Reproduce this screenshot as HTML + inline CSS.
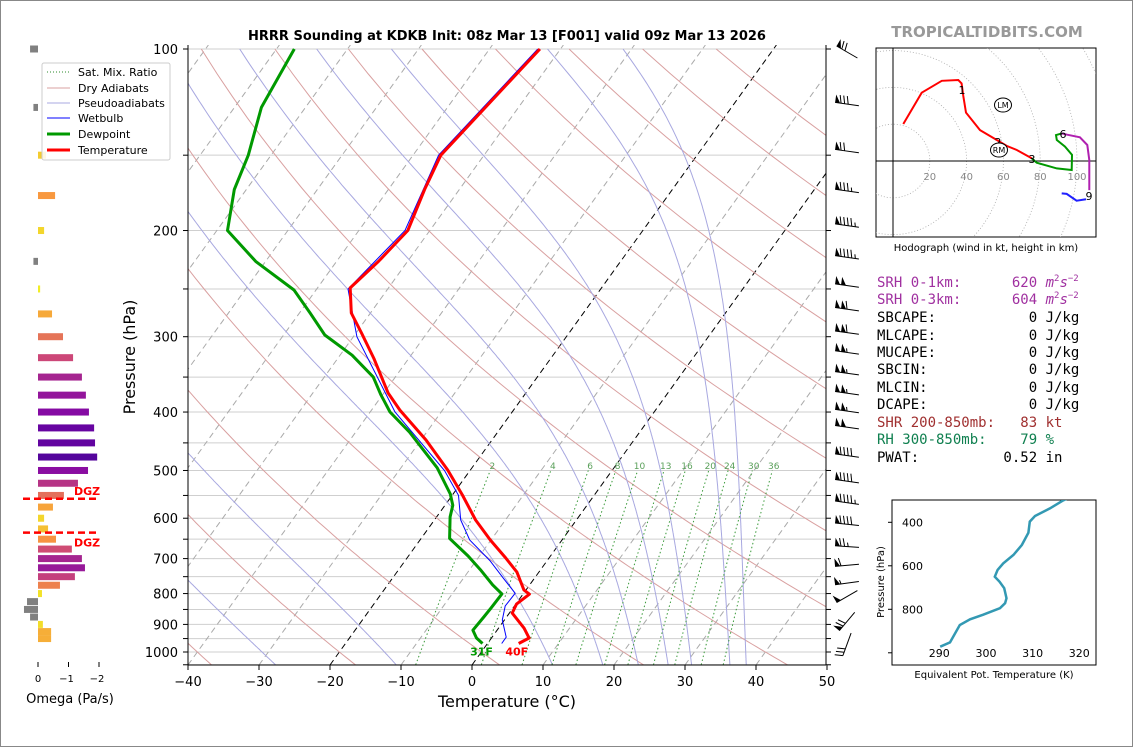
<!DOCTYPE html>
<html><head><meta charset="utf-8"><title>HRRR Sounding KDKB</title>
<style>
html,body{margin:0;padding:0;background:#fff;}
svg{display:block;font-family:"DejaVu Sans","Liberation Sans",sans-serif;}
.mono{font-family:"DejaVu Sans Mono","Liberation Mono",monospace;font-size:14px;white-space:pre;}
</style></head>
<body>
<svg id="fig" width="1134" height="748" viewBox="0 0 1134 748" xmlns="http://www.w3.org/2000/svg">
<rect x="0.5" y="0.5" width="1132" height="746" fill="#fff" stroke="#888"/>
<defs>
<clipPath id="skewclip"><rect x="188" y="45" width="638" height="620"/></clipPath>
<clipPath id="hodoclip"><rect x="876" y="48" width="220" height="189"/></clipPath>
<clipPath id="theclip"><rect x="892" y="500" width="204" height="165"/></clipPath>
</defs>
<text x="507" y="40" text-anchor="middle" font-size="13" font-weight="bold">HRRR Sounding at KDKB Init: 08z Mar 13 [F001] valid 09z Mar 13 2026</text>
<text x="987" y="37" text-anchor="middle" font-size="15" font-weight="bold" fill="#999">TROPICALTIDBITS.COM</text>

<g id="skew-bg" clip-path="url(#skewclip)"></g>
<g id="skew-data" clip-path="url(#skewclip)"></g>
<g id="skew-axes"></g>
<g id="barbs"></g>
<g id="omega"></g>
<g id="legend">
 <rect x="42" y="63" width="128" height="97" fill="#fff" fill-opacity="0.85" stroke="#ccc" rx="2"/>
 <g font-size="11">
 <line x1="47" y1="72" x2="70" y2="72" stroke="#2e8b2e" stroke-dasharray="1,2"/>
 <text x="78" y="76">Sat. Mix. Ratio</text>
 <line x1="47" y1="88" x2="70" y2="88" stroke="#d9a0a0"/>
 <text x="78" y="92">Dry Adiabats</text>
 <line x1="47" y1="103" x2="70" y2="103" stroke="#a8a8e0"/>
 <text x="78" y="107">Pseudoadiabats</text>
 <line x1="47" y1="118" x2="70" y2="118" stroke="#0000ff"/>
 <text x="78" y="122">Wetbulb</text>
 <line x1="47" y1="134" x2="70" y2="134" stroke="#009900" stroke-width="3"/>
 <text x="78" y="138">Dewpoint</text>
 <line x1="47" y1="150" x2="70" y2="150" stroke="#ff0000" stroke-width="3"/>
 <text x="78" y="154">Temperature</text>
 </g>
</g>
<g id="hodo"></g>
<g id="stats">
 <text class="mono" x="877" y="287" fill="#a030a0">SRH 0-1km:      620 <tspan font-style="italic">m</tspan><tspan font-size="9" dy="-6">2</tspan><tspan dy="6" font-style="italic">s</tspan><tspan font-size="9" dy="-6">−2</tspan></text>
 <text class="mono" x="877" y="304" fill="#a030a0">SRH 0-3km:      604 <tspan font-style="italic">m</tspan><tspan font-size="9" dy="-6">2</tspan><tspan dy="6" font-style="italic">s</tspan><tspan font-size="9" dy="-6">−2</tspan></text>
 <text class="mono" x="877" y="322">SBCAPE:           0 J/kg</text>
 <text class="mono" x="877" y="340">MLCAPE:           0 J/kg</text>
 <text class="mono" x="877" y="357">MUCAPE:           0 J/kg</text>
 <text class="mono" x="877" y="374">SBCIN:            0 J/kg</text>
 <text class="mono" x="877" y="392">MLCIN:            0 J/kg</text>
 <text class="mono" x="877" y="409">DCAPE:            0 J/kg</text>
 <text class="mono" x="877" y="427" fill="#a03030">SHR 200-850mb:   83 kt</text>
 <text class="mono" x="877" y="444" fill="#108050">RH 300-850mb:    79 %</text>
 <text class="mono" x="877" y="462">PWAT:          0.52 in</text>
</g>
<g id="thetae"></g>
</svg>
<script>
// ---------- Skew-T data ----------
const tempP = [100,150,171,200,225,249,274,296,326,372,397,445,499,549,604,652,696,737,789,802,833,862,913,948,968];
const tempC = [-52.9,-56.1,-54.9,-53.1,-54.1,-55.4,-52.7,-49.2,-44.9,-39.4,-36,-29.3,-23.2,-18.6,-14.2,-10.1,-6.3,-3.1,-0.3,0.9,0.1,0.4,3.6,5.3,4.4];
const dewP = [100,125,150,171,200,225,251,274,298,322,350,374,400,432,495,547,571,597,648,693,730,774,801,845,875,920,948,968];
const dewC = [-87.5,-86.2,-83.2,-81.7,-78.5,-71.4,-63.1,-58.5,-54.2,-48.3,-43.1,-40.3,-37.2,-32.4,-24.9,-20.4,-18.9,-18.1,-16,-11.6,-8.5,-5.2,-3,-3.1,-3.2,-3.4,-2.1,-0.7];
const wbP = [100,150,200,250,300,400,500,550,604,652,705,757,799,839,885,945,968];
const wbC = [-53.2,-56.4,-53.5,-55.6,-49.5,-36.5,-23.6,-19.1,-16.3,-13,-8.1,-4.2,-1.2,-1.3,-0.3,2,2];
// background reference line sets
const dryThetaC = [-80,-60,-40,-20,0,20,40,60,80,100,120,140,160,180,200];
const moistStartC = [-107,-87,-67,-47,-27.7,-10.7,11.3,18.4,23.4,27.6,30.9,36.3,38.6];
const mixRatios = [2,4,6,8,10,13,16,20,24,30,36];
const isotherms = [-130,-120,-110,-100,-90,-80,-70,-60,-50,-40,-30,-20,-10,0,10,20,30,40,50];
const pTicks = [100,200,300,400,500,600,700,800,900,1000];
const tTicks = [-40,-30,-20,-10,0,10,20,30,40,50];
// wind barbs
const barbP = [100,122,146,170,194,219,244,267,292,315,341,368,394,419,467,515,559,607,661,710,760,800,880,960];
const barbSpd = [70,80,70,85,95,95,100,110,110,105,105,105,105,100,90,90,95,90,75,60,55,50,70,30];
const barbDir = [300,278,278,278,278,278,278,278,278,278,278,278,278,278,278,278,278,276,274,265,262,240,220,200];
// omega
const omegaP = [100,125,150,175,200,225,250,275,300,325,350,375,400,425,450,475,500,525,550,575,600,625,650,675,700,725,750,775,800,825,850,875,900,925,950];
const omegaV = [0.26,0.15,-0.26,-0.56,-0.2,0.15,-0.07,-0.46,-0.82,-1.15,-1.44,-1.57,-1.67,-1.84,-1.87,-1.94,-1.64,-1.31,-0.85,-0.49,-0.2,-0.33,-0.59,-1.11,-1.44,-1.54,-1.21,-0.72,-0.13,0.36,0.46,0.26,-0.16,-0.43,-0.43];
const dgzP = [557,634];
// hodograph (kt)
const hodoU1 = [5.6,15.6,26.5,35.5,37.3,38.2,39.7,47.3,56.4,61.8,67.3,75.4];
const hodoV1 = [20.1,37.1,43.6,44,42.2,35.3,26.3,16.8,11.4,8.2,6,1.5];
const hodoU2 = [75.4,78.1,89,97.1,97.3,93.5,89,88.6,91.7];
const hodoV2 = [1.5,-0.9,-4,-4.9,3.3,7.8,11.4,14.1,15];
const hodoU3 = [91.7,94.7,101.6,105.6,106.7,106.7];
const hodoV3 = [15,14.3,12.9,8.7,0.5,-15.8];
const hodoU4 = [91.7,94.4,99.8,104.9];
const hodoV4 = [-17.6,-17.9,-21.6,-20.8];
const hodoRings = [20,40,60,80,100,120];
const hodoLabels = [20,40,60,80,100];
// theta-e
const thetaP = [972,952,872,846,825,795,772,749,703,673,650,619,589,550,504,448,397,371,336,301,290];
const thetaK = [290.2,292.3,294.4,296.6,299.4,303,304.1,304.4,303.9,302.9,301.9,302.5,303.7,305.9,307.7,309.1,309.4,310.5,313.7,316.4,317.5];
const thetaXTicks = [290,300,310,320];
const thetaYTicks = [400,600,800,1000];

const NS = 'http://www.w3.org/2000/svg';
function mk(tag, attrs, parent){ const e=document.createElementNS(NS,tag); for(const k in attrs) e.setAttribute(k,attrs[k]); if(parent) parent.appendChild(e); return e; }
const yOfP = p => 49 + 603*Math.log10(p/100);
const xOfT = (T, y) => 188 + (T+40)*7.1 + 0.72*(665-y);
function pathPT(ps, ts){ return ps.map((p,i)=>{const y=yOfP(p);return (i?'L':'M')+xOfT(ts[i],y).toFixed(1)+','+y.toFixed(1);}).join(''); }

const bg = document.getElementById('skew-bg');
for(let p=100;p<=1050;p+=50){ const y=yOfP(p);
 const l=mk('line',{x1:188,x2:826,y1:y,y2:y,stroke:'#cfcfcf','stroke-width':1},bg);
 
  }
isotherms.forEach(T=>{ const y1=665,y2=45;
 const l=mk('line',{x1:xOfT(T,y1),y1:y1,x2:xOfT(T,y2),y2:y2,stroke:(T===0||T===-20)?'#000':'#aaa','stroke-dasharray':'6,4','stroke-width':1},bg);
 
  });
dryThetaC.forEach(th=>{ const ps=[],ts=[]; for(let p=1050;p>=95;p-=10){ps.push(p);ts.push((th+273.15)*Math.pow(p/1000,0.2857)-273.15);}
 const e=mk('path',{d:pathPT(ps,ts),fill:'none',stroke:'#d9a0a0','stroke-width':1},bg);
 
  });
function moistRate(T,p){ const Rd=287.04,cp=1005.7,Lv=2.501e6,eps=0.622;
 const es=6.112*Math.exp(17.67*(T-273.15)/(T-29.65)); const rs=eps*es/(p-es);
 return (Rd*T+Lv*rs)/(cp+Lv*Lv*rs*eps/(Rd*T*T))/p; }
moistStartC.forEach(t0=>{ let T=t0+273.15; const ps=[1050],ts=[t0];
 for(let p=1050;p>100;p-=2){ T-=moistRate(T,p)*2; ps.push(p-2); ts.push(T-273.15); }
 const e=mk('path',{d:pathPT(ps,ts),fill:'none',stroke:'#a8a8e0','stroke-width':1},bg);
 
  });
function tdOf(w,p){ const e=w*p/(622+w); const a=Math.log(e/6.112); return 243.5*a/(17.67-a); }
mixRatios.forEach(w=>{ const ps=[],ts=[]; for(let p=1050;p>=500;p-=10){ps.push(p);ts.push(tdOf(w,p));}
 const e=mk('path',{d:pathPT(ps,ts),fill:'none',stroke:'#3a9a3a','stroke-width':1,'stroke-dasharray':'1.5,2.5'},bg);
 
 
 const y=yOfP(490); const t=mk('text',{x:xOfT(tdOf(w,490),y),y:y+4,'font-size':9,fill:'#5aa05a','text-anchor':'middle'},bg); t.textContent=w;
 
  });

const sd=document.getElementById('skew-data');
let e=mk('path',{d:pathPT(wbP,wbC),fill:'none',stroke:'#0000ff','stroke-width':1},sd);


e=mk('path',{d:pathPT(dewP,dewC),fill:'none',stroke:'#009900','stroke-width':3,'stroke-linejoin':'round'},sd);


e=mk('path',{d:pathPT(tempP,tempC),fill:'none',stroke:'#ff0000','stroke-width':3,'stroke-linejoin':'round'},sd);


{ const ys=yOfP(dewP[dewP.length-1]);
 let t=mk('text',{x:xOfT(dewC[dewC.length-1],ys)-1,y:ys+12,'font-size':11,'font-weight':'bold',fill:'#009900','text-anchor':'middle'},sd);
 t.textContent=Math.round(dewC[dewC.length-1]*9/5+32)+'F';
 
 
 const yt=yOfP(tempP[tempP.length-1]);
 t=mk('text',{x:xOfT(tempC[tempC.length-1],yt)-2,y:yt+12,'font-size':11,'font-weight':'bold',fill:'#ff0000','text-anchor':'middle'},sd);
 t.textContent=Math.round(tempC[tempC.length-1]*9/5+32)+'F';
 
  }

const ax=document.getElementById('skew-axes');
mk('line',{x1:188,y1:45,x2:188,y2:665,stroke:'#000'},ax);
mk('line',{x1:826,y1:45,x2:826,y2:665,stroke:'#000'},ax);
mk('line',{x1:188,y1:665,x2:826,y2:665,stroke:'#000'},ax);
for(let p=100;p<=1050;p+=50){ const y=yOfP(p); mk('line',{x1:183,x2:188,y1:y,y2:y,stroke:'#000'},ax); mk('line',{x1:826,x2:831,y1:y,y2:y,stroke:'#000'},ax); }
pTicks.forEach(p=>{ const t=mk('text',{x:178,y:yOfP(p)+5,'font-size':13,'text-anchor':'end'},ax); t.textContent=p;
 
  });
tTicks.forEach(T=>{ const x=xOfT(T,665); mk('line',{x1:x,x2:x,y1:665,y2:670,stroke:'#000'},ax);
 const t=mk('text',{x:x,y:686,'font-size':13,'text-anchor':'middle'},ax); t.textContent=(T<0?'−':'')+Math.abs(T);
 
  });
e=mk('text',{x:507,y:707,'font-size':16,'text-anchor':'middle'},ax); e.textContent='Temperature (°C)';


e=mk('text',{x:135,y:357,'font-size':16,'text-anchor':'middle',transform:'rotate(-90 135 357)'},ax); e.textContent='Pressure (hPa)';



// wind barbs
const bb=document.getElementById('barbs');
barbP.forEach((p,i)=>{ const d=barbDir[i]*Math.PI/180;
 const ux=Math.sin(d), uy=-Math.cos(d); const px=-uy, py=ux;
 const L=24; const cx=847, cy=yOfP(p)+3;
 const bx=cx-ux*L/2, by=cy-uy*L/2; const tx=bx+ux*L, ty=by+uy*L;
 const g=mk('g',{},bb);
 
 
 mk('line',{x1:bx,y1:by,x2:tx,y2:ty,stroke:'#000','stroke-width':1},g);
 let s=Math.round(barbSpd[i]/5)*5; let pos=0; const sp=3.6;
 const at=k=>[tx-ux*k, ty-uy*k];
 while(s>=50){ const a=at(pos), b=at(pos+5); mk('polygon',{points:`${a[0]},${a[1]} ${b[0]},${b[1]} ${a[0]+px*8},${a[1]+py*8}`,fill:'#000'},g); pos+=6; s-=50; }
 while(s>=10){ const a=at(pos); mk('line',{x1:a[0],y1:a[1],x2:a[0]+px*8+ux*2,y2:a[1]+py*8+uy*2,stroke:'#000'},g); pos+=sp; s-=10; }
 if(s>=5){ if(pos===0) pos=sp; const a=at(pos); mk('line',{x1:a[0],y1:a[1],x2:a[0]+px*4+ux*1,y2:a[1]+py*4+uy*1,stroke:'#000'},g); }
});

// omega panel
const om=document.getElementById('omega');
const xOm = v => 38 - v*30.5;
function plasma(t){ const stops=[[13,8,135],[126,3,168],[204,71,120],[248,149,64],[240,249,33]]; t=Math.max(0,Math.min(1,t)); const f=t*4, i=Math.min(3,Math.floor(f)), r=f-i; const a=stops[i],b=stops[i+1]; return `rgb(${a.map((c,k)=>Math.round(c+(b[k]-c)*r)).join(',')})`; }
omegaV.forEach((v,i)=>{ const y=yOfP(omegaP[i]); const x0=Math.min(xOm(0),xOm(v)), w=Math.abs(xOm(v)-xOm(0));
 const col = v>0 ? '#808080' : plasma(1-Math.abs(v)/2.3);
 const r=mk('rect',{x:x0,y:y-3.5,width:Math.max(w,1),height:7,fill:col},om);
 
  });
dgzP.forEach((p,i)=>{ const y=yOfP(p);
 const l=mk('line',{x1:23,x2:98,y1:y,y2:y,stroke:'#ff0000','stroke-width':2.5,'stroke-dasharray':'7,4'},om);
 
 
 const t=mk('text',{x:74,y:i===0?y-4:y+14,'font-size':11,'font-weight':'bold',fill:'#ff0000'},om); t.textContent='DGZ';
 
  });
[0,-1,-2].forEach(v=>{ const x=xOm(v); mk('line',{x1:x,x2:x,y1:662,y2:667,stroke:'#000'},om);
 const t=mk('text',{x:x+(v<0?-2:0),y:682,'font-size':10,'text-anchor':'middle'},om); t.textContent=v<0?'−'+Math.abs(v):'0';
 
  });
e=mk('text',{x:70,y:703,'font-size':13,'text-anchor':'middle'},om); e.textContent='Omega (Pa/s)';



// hodograph
const ho=document.getElementById('hodo');
const hx = u => 893 + u*1.84, hy = v => 161 - v*1.84;
mk('rect',{x:876,y:48,width:220,height:189,fill:'#fff',stroke:'#000'},ho);
const hc=mk('g',{'clip-path':'url(#hodoclip)'},ho);
hodoRings.forEach(r=>{ const c=mk('circle',{cx:hx(0),cy:hy(0),r:r*1.84,fill:'none',stroke:'#aaa','stroke-dasharray':'1,2','stroke-width':0.8},hc);
 
  });
mk('line',{x1:hx(0),x2:hx(0),y1:48,y2:237,stroke:'#000'},hc);
mk('line',{x1:876,x2:1096,y1:hy(0),y2:hy(0),stroke:'#000'},hc);
hodoLabels.forEach(r=>{ const t=mk('text',{x:hx(r),y:hy(0)+19,'font-size':10,fill:'#888','text-anchor':'middle'},hc); t.textContent=r;
 
  });
function hpath(U,V){ return U.map((u,i)=>(i?'L':'M')+hx(u).toFixed(1)+','+hy(V[i]).toFixed(1)).join(''); }
[[hodoU1,hodoV1,'#ff0000','hodograph-0-3km'],[hodoU2,hodoV2,'#009900','hodograph-3-6km'],[hodoU3,hodoV3,'#b020b0','hodograph-6-9km'],[hodoU4,hodoV4,'#2020ff','hodograph-9-12km']].forEach(s=>{
 const p=mk('path',{d:hpath(s[0],s[1]),fill:'none',stroke:s[2],'stroke-width':2},hc);
 
  });
[['1',962,94],['2',998,146],['3',1032,163],['6',1063,138],['9',1089,200]].forEach(a=>{ const t=mk('text',{x:a[1],y:a[2],'font-size':11,'text-anchor':'middle'},hc); t.textContent=a[0];
 
  });
[['LM',1003,105],['RM',999,150]].forEach(a=>{ mk('ellipse',{cx:a[1],cy:a[2],rx:8.5,ry:7,fill:'#fff',stroke:'#000'},hc);
 const t=mk('text',{x:a[1],y:a[2]+3,'font-size':8,'text-anchor':'middle'},hc); t.textContent=a[0];
 
  });
e=mk('text',{x:986,y:251,'font-size':10,'text-anchor':'middle'},ho); e.textContent='Hodograph (wind in kt, height in km)';



// theta-e
const th=document.getElementById('thetae');
const tx = k => 939.3 + (k-290)*4.667, ty = p => 522.3 + (p-400)*0.2175;
mk('rect',{x:892,y:500,width:204,height:165,fill:'#fff',stroke:'#000'},th);
e=mk('path',{d:thetaK.map((k,i)=>(i?'L':'M')+tx(k).toFixed(1)+','+ty(thetaP[i]).toFixed(1)).join(''),fill:'none',stroke:'#3399b3','stroke-width':2.5,'clip-path':'url(#theclip)'},th);


thetaYTicks.forEach(p=>{ const y=ty(p); mk('line',{x1:888,x2:892,y1:y,y2:y,stroke:'#000'},th);
 if(p<1000){ const t=mk('text',{x:923,y:y+4,'font-size':11,'text-anchor':'end'},th); t.textContent=p;
 
  } });
thetaXTicks.forEach(k=>{ const t=mk('text',{x:tx(k),y:657,'font-size':11,'text-anchor':'middle'},th); t.textContent=k;
 
  });
e=mk('text',{x:994,y:678,'font-size':10,'text-anchor':'middle'},th); e.textContent='Equivalent Pot. Temperature (K)';


e=mk('text',{x:884,y:582,'font-size':10,'text-anchor':'middle',transform:'rotate(-90 884 582)'},th); e.textContent='Pressure (hPa)';


</script>
</body></html>
